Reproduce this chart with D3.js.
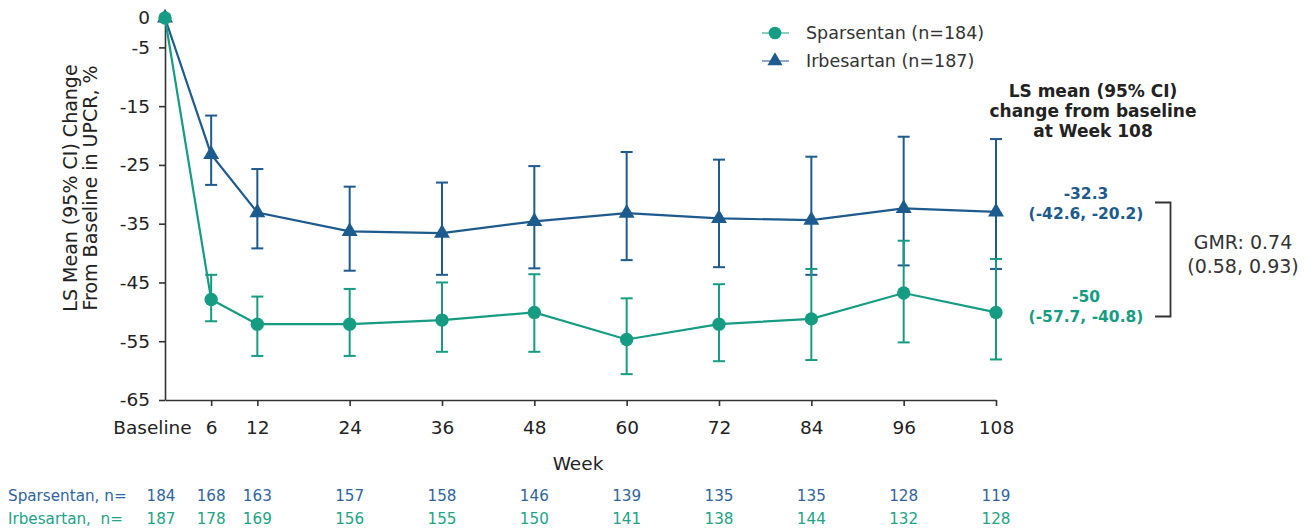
<!DOCTYPE html>
<html>
<head>
<meta charset="utf-8">
<script src="https://cdn.jsdelivr.net/npm/d3@7"></script>
<style>
  body { margin: 0; background: #fff; }
  svg, svg text { font-family: "DejaVu Sans", Verdana, sans-serif; }
</style>
</head>
<body>
<div id="chart"></div>
<script>
// datos
const weeks = [0, 6, 12, 24, 36, 48, 60, 72, 84, 96, 108];
const weekLabels = ['Baseline', '6', '12', '24', '36', '48', '60', '72', '84', '96', '108'];
const yTicks = [0, -5, -15, -25, -35, -45, -55, -65];

const sparMean  = [0, -47.9, -52.1, -52.1, -51.4, -50.1, -54.7, -52.1, -51.2, -46.8, -50.1];
const sparUpper = [0, -43.7, -47.4, -46.1, -45.0, -43.6, -47.7, -45.3, -42.7, -37.9, -41.0];
const sparLower = [0, -51.6, -57.5, -57.5, -56.8, -56.8, -60.6, -58.4, -58.2, -55.2, -58.1];

const irbMean  = [0, -23.2, -33.1, -36.3, -36.6, -34.6, -33.2, -34.1, -34.4, -32.4, -33.0];
const irbUpper = [0, -16.6, -25.7, -28.7, -28.0, -25.2, -22.8, -24.1, -23.6, -20.2, -20.6];
const irbLower = [0, -28.4, -39.2, -43.0, -43.7, -42.6, -41.2, -42.4, -43.7, -42.1, -42.7];

const nSpar = [184, 168, 163, 157, 158, 146, 139, 135, 135, 128, 119];
const nIrb  = [187, 178, 169, 156, 155, 150, 141, 138, 144, 132, 128];

const GREEN = '#169c82';
const BLUE = '#1d5a8e';
const FONT = '"DejaVu Sans", Verdana, sans-serif';

const width = 1314;
const height = 529;

const svg = d3.select('#chart')
  .append('svg')
  .attr('width', width)
  .attr('height', height);

const x = d3.scaleLinear().domain([0, 108]).range([165, 996]);
const y = d3.scaleLinear().domain([0, -65]).range([18, 400]);

// ejes
const yAxis = svg.append('g')
  .attr('transform', `translate(${x(0)},0)`)
  .call(d3.axisLeft(y).tickValues(yTicks).tickSize(6).tickPadding(9).tickSizeOuter(0)
    .tickFormat(d => d));
const xAxis = svg.append('g')
  .attr('transform', `translate(0,${y(-65)})`)
  .call(d3.axisBottom(x).tickValues(weeks).tickSize(6).tickPadding(15).tickSizeOuter(0)
    .tickFormat((d, i) => weekLabels[i]));

[yAxis, xAxis].forEach(a => {
  a.attr('font-family', FONT).attr('font-size', null);
  a.select('.domain').attr('stroke', '#333').attr('stroke-width', 1.6);
  a.selectAll('.tick line').attr('stroke', '#333').attr('stroke-width', 1.6);
  a.selectAll('.tick text').attr('fill', '#222').style('font-size', '18.5px');
});
xAxis.selectAll('.tick').filter(d => d === 0).select('line').remove();
xAxis.selectAll('.tick').filter(d => d === 0).select('text').attr('dx', -13);

// título eje y
const yTitle = svg.append('text')
  .attr('transform', 'translate(81,188) rotate(-90)')
  .attr('text-anchor', 'middle')
  .attr('fill', '#222')
  .style('font-size', '19px');
yTitle.append('tspan').attr('x', 0).attr('dy', '-0.2em').text('LS Mean (95% CI) Change');
yTitle.append('tspan').attr('x', 0).attr('dy', '1.05em').text('From Baseline in UPCR, %');

svg.append('text')
  .attr('x', 578).attr('y', 470)
  .attr('text-anchor', 'middle')
  .attr('fill', '#222')
  .style('font-size', '18.5px')
  .text('Week');

// series
const series = [
  { name: 'Irbesartan (n=187)', mean: irbMean, lo: irbLower, hi: irbUpper, color: BLUE, legColor: '#8ea8c9', symbol: d3.symbolTriangle, size: 110 },
  { name: 'Sparsentan (n=184)', mean: sparMean, lo: sparLower, hi: sparUpper, color: GREEN, legColor: '#86d0bd', symbol: d3.symbolCircle, size: 140 },
];

const line = d3.line().x(d => x(d.w)).y(d => y(d.v));

series.forEach(s => {
  const pts = weeks.map((w, i) => ({ w, v: s.mean[i], lo: s.lo[i], hi: s.hi[i] }));
  const g = svg.append('g');
  // barras de error
  const eb = g.selectAll('.eb').data(pts.filter(p => p.w > 0)).enter().append('g');
  eb.append('line')
    .attr('x1', d => x(d.w)).attr('x2', d => x(d.w))
    .attr('y1', d => y(d.hi)).attr('y2', d => y(d.lo))
    .attr('stroke', s.color).attr('stroke-width', 2);
  ['hi', 'lo'].forEach(k => {
    eb.append('line')
      .attr('x1', d => x(d.w) - 6).attr('x2', d => x(d.w) + 6)
      .attr('y1', d => y(d[k])).attr('y2', d => y(d[k]))
      .attr('stroke', s.color).attr('stroke-width', 2);
  });
  g.append('path')
    .datum(pts)
    .attr('d', line)
    .attr('fill', 'none')
    .attr('stroke', s.color)
    .attr('stroke-width', 2.2);
  g.selectAll('.pt').data(pts).enter().append('path')
    .attr('transform', d => `translate(${x(d.w)},${y(d.v)})`)
    .attr('d', d3.symbol().type(s.symbol).size(s.size))
    .attr('fill', s.color);
});

// leyenda
const legend = [series[1], series[0]];
legend.forEach((s, i) => {
  const ly = 33 + i * 28;
  svg.append('line')
    .attr('x1', 762).attr('x2', 789).attr('y1', ly).attr('y2', ly)
    .attr('stroke', s.legColor).attr('stroke-width', 2);
  svg.append('path')
    .attr('transform', `translate(775,${ly})`)
    .attr('d', d3.symbol().type(s.symbol).size(s.size * 0.9))
    .attr('fill', s.color);
  svg.append('text')
    .attr('x', 806).attr('y', ly + 6)
    .attr('fill', '#333')
    .style('font-size', '17.5px')
    .text(s.name);
});

// anotación semana 108
const ann = svg.append('text')
  .attr('text-anchor', 'middle')
  .attr('fill', '#222')
  .style('font-size', '17px')
  .style('font-weight', 'bold');
['LS mean (95% CI)', 'change from baseline', 'at Week 108'].forEach((t, i) => {
  ann.append('tspan').attr('x', 1093).attr('y', 97 + i * 20).text(t);
});

const annVals = [
  { lines: ['-32.3', '(-42.6, -20.2)'], y: 199, color: BLUE },
  { lines: ['-50', '(-57.7, -40.8)'], y: 302, color: GREEN },
];
annVals.forEach(a => {
  a.lines.forEach((t, i) => {
    svg.append('text')
      .attr('x', 1086).attr('y', a.y + i * 20)
      .attr('text-anchor', 'middle')
      .attr('fill', a.color)
      .style('font-size', '15.5px')
      .style('font-weight', 'bold')
      .text(t);
  });
});

svg.append('path')
  .attr('d', 'M1155,202.5H1170.5V316.5H1155')
  .attr('fill', 'none')
  .attr('stroke', '#333')
  .attr('stroke-width', 1.8);

['GMR: 0.74', '(0.58, 0.93)'].forEach((t, i) => {
  svg.append('text')
    .attr('x', 1243).attr('y', 249 + i * 24)
    .attr('text-anchor', 'middle')
    .attr('fill', '#333')
    .style('font-size', '19px')
    .text(t);
});

// tabla de pacientes
const rows = [
  { label: 'Sparsentan, n=', values: nSpar, color: '#2f64a0', y: 501 },
  { label: 'Irbesartan,  n=', values: nIrb, color: '#22a386', y: 524 },
];
rows.forEach(r => {
  svg.append('text')
    .attr('x', 8).attr('y', r.y)
    .attr('fill', r.color)
    .style('font-size', '15.2px')
    .style('white-space', 'pre')
    .attr('xml:space', 'preserve')
    .text(r.label);
  svg.selectAll(null).data(r.values).enter().append('text')
    .attr('x', (d, i) => (i === 0 ? x(weeks[i]) - 4 : x(weeks[i])))
    .attr('y', r.y)
    .attr('text-anchor', 'middle')
    .attr('fill', r.color)
    .style('font-size', '15.2px')
    .text(d => d);
});
</script>
</body>
</html>
